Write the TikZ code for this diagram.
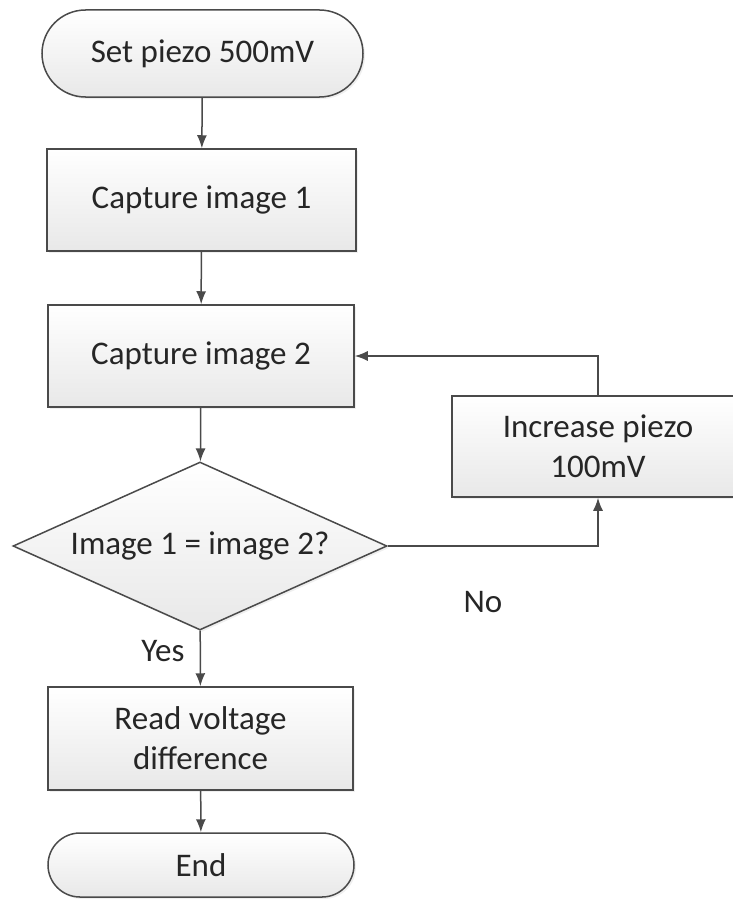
\documentclass[tikz,border=0pt]{standalone}
\usepackage{fontspec}
\setmainfont{Carlito}
\usetikzlibrary{shapes.geometric,shapes.misc,arrows.meta,shadows}

\definecolor{linegray}{HTML}{4A4A4A}
\definecolor{textgray}{HTML}{262626}

\tikzset{
    flowbox/.style={draw=linegray, line width=1.5pt, top color=white, bottom color=gray!18,
        drop shadow={shadow xshift=2pt, shadow yshift=-2pt, fill=gray!25},
        text=textgray, align=center, inner sep=0pt, font=\fontsize{33}{40}\selectfont},
    procbox/.style={flowbox, rectangle},
    termbox/.style={flowbox, rounded rectangle, rounded rectangle arc length=180},
    decisionbox/.style={flowbox, diamond, aspect=2.2},
    flowarrow/.style={draw=linegray, line width=1.5pt, -{Latex[length=13pt,width=10pt]}},
    flowlabel/.style={text=textgray, inner sep=0pt, font=\fontsize{33}{40}\selectfont}
}

\begin{document}
\begin{tikzpicture}[x=1pt, y=-1pt]

    % Fix the page to the size of the reference
    \useasboundingbox (0,0) rectangle (732,899);

    % Start of the flow
    \node[termbox, minimum width=321pt, minimum height=87pt] (start) at (202.5,53.5) {Set piezo 500mV};

    % The two captures
    \node[procbox, minimum width=309pt, minimum height=102pt] (capone) at (201.5,200) {Capture image 1};
    \node[procbox, minimum width=306pt, minimum height=102pt] (captwo) at (201,356) {Capture image 2};

    % Compare both images
    \node[decisionbox, minimum width=374pt, minimum height=168pt] (compare) at (200,546) {Image 1 = image 2?};

    % Loop back when they differ
    \node[procbox, minimum width=292pt, minimum height=101pt] (increase) at (598,446.5) {Increase piezo\\100mV};

    % Result and end
    \node[procbox, minimum width=305pt, minimum height=103pt] (readout) at (200.5,738.5) {Read voltage\\difference};
    \node[termbox, minimum width=306pt, minimum height=64pt] (finish) at (201,865) {End};

    % Main line
    \draw[flowarrow] (start) -- (capone);
    \draw[flowarrow] (capone) -- (captwo);
    \draw[flowarrow] (captwo) -- (compare);
    \draw[flowarrow] (compare) -- (readout);
    \draw[flowarrow] (readout) -- (finish);

    % Loop
    \draw[flowarrow] (compare.east) -| (increase.south);
    \draw[flowarrow] (increase.north) |- (captwo.east);

    % Branch labels
    \node[flowlabel] (yes) at (163,651) {Yes};
    \node[flowlabel] (no) at (483,602) {No};

\end{tikzpicture}
\end{document}
